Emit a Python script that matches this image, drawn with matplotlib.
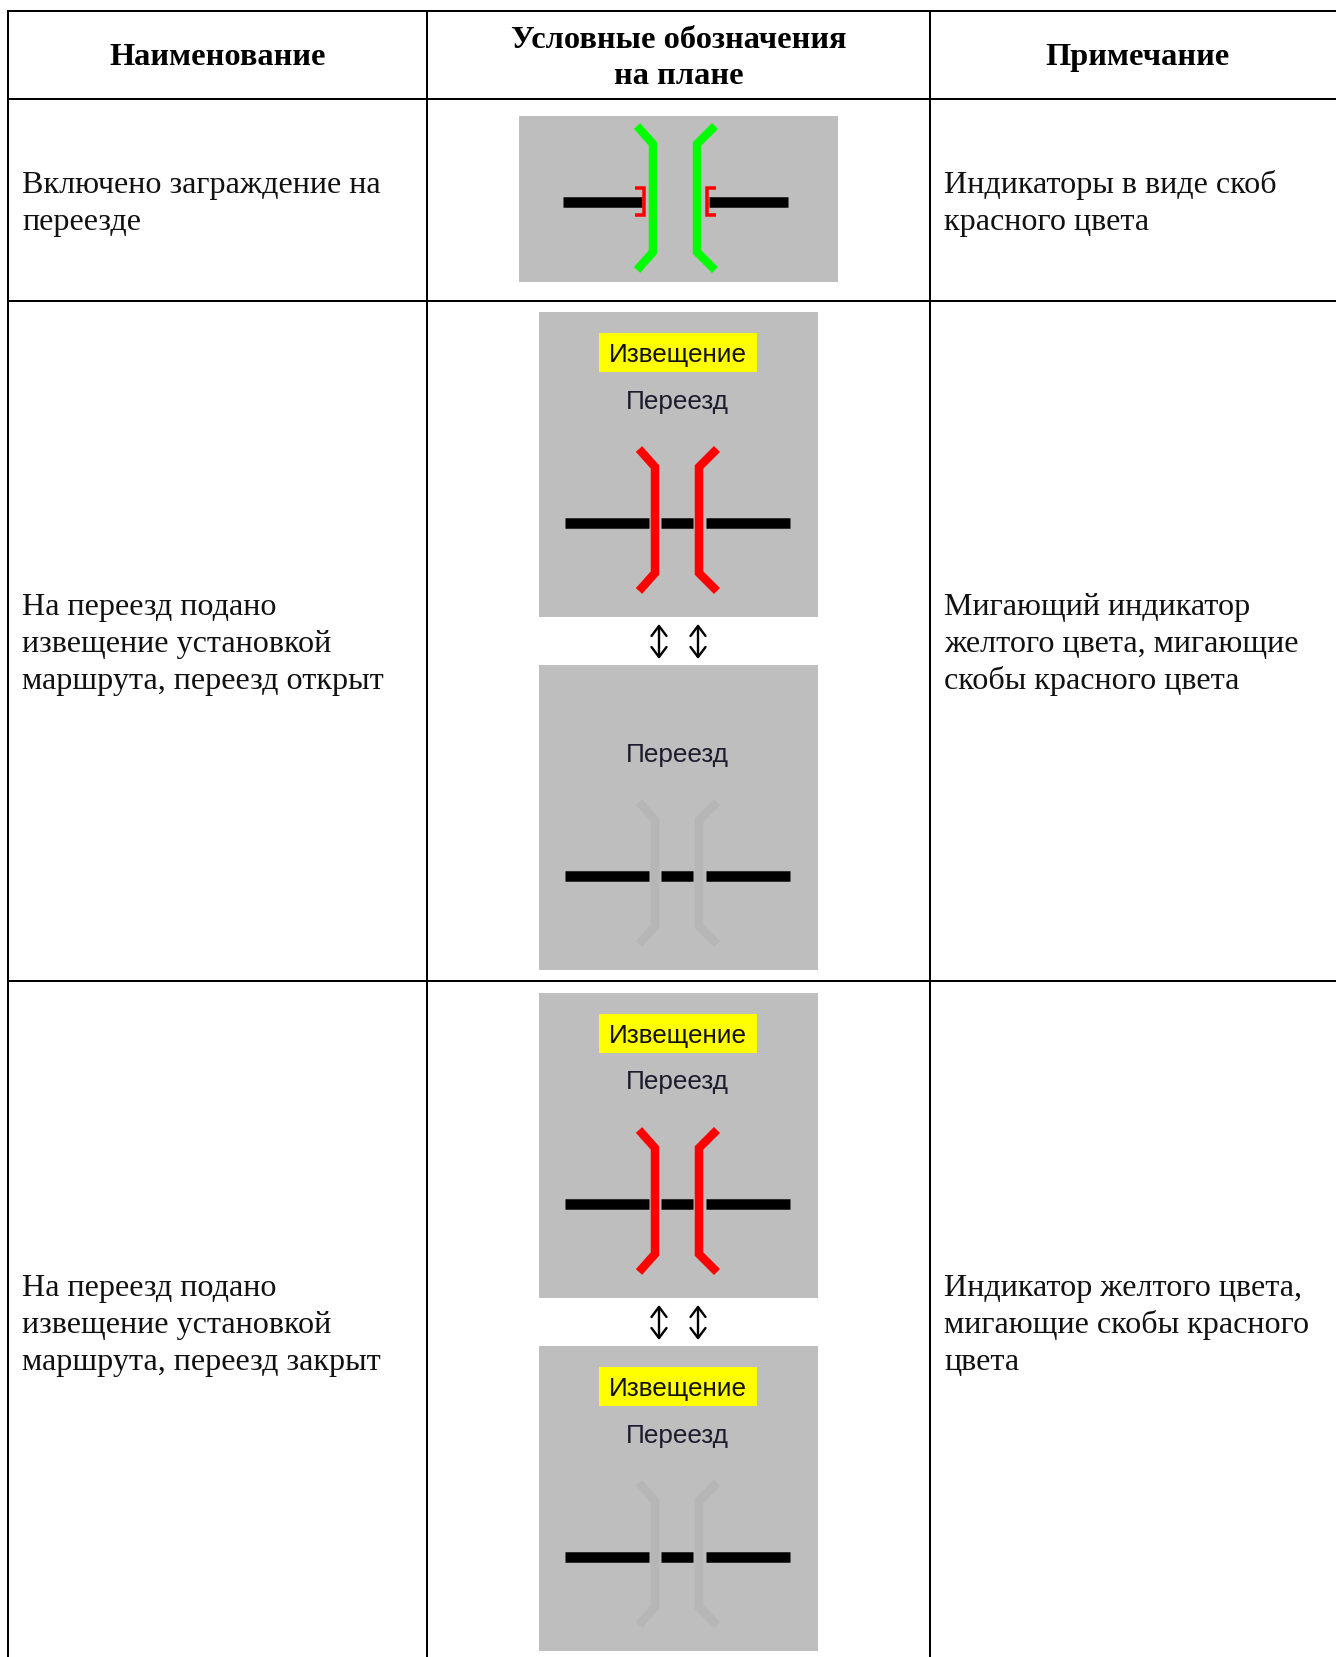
import matplotlib
matplotlib.use("Agg")
import matplotlib.pyplot as plt
from matplotlib import patches

W = 1336
H = 1658

# table
col_lines = [8, 427, 929.5]
row_lines = [11.5, 99.5, 302, 982]
headers = ["Наименование", "Условные обозначения\nна плане", "Примечание"]
names = [
    ["Включено заграждение на", "переезде"],
    ["На переезд подано", "извещение установкой", "маршрута, переезд открыт"],
    ["На переезд подано", "извещение установкой", "маршрута, переезд закрыт"],
]
notes = [
    ["Индикаторы в виде скоб", "красного цвета"],
    ["Мигающий индикатор", "желтого цвета, мигающие", "скобы красного цвета"],
    ["Индикатор желтого цвета,", "мигающие скобы красного", "цвета"],
]
row_centers = [203, 644, 1325]

SERIF = "Liberation Serif"
SANS = "Liberation Sans"
GREY = "#bebebe"
GHOST = "#b6b6b6"

fig = plt.figure(figsize=(W / 100, H / 100), dpi=100)
ax = fig.add_axes([0, 0, 1, 1])
ax.set_xlim(0, W)
ax.set_ylim(H, 0)
ax.axis("off")


def px(v):
    return v * 72 / 100


def poly(xs, ys, color, lw, cap="butt"):
    ax.plot(xs, ys, color=color, lw=px(lw), solid_capstyle=cap, solid_joinstyle="miter")


def gate(top, color):
    # two brackets, top is y of the upper end
    ys = [top, top + 18, top + 124, top + 142]
    poly([639, 655, 655, 639], ys, color, 8.5)
    poly([717, 699, 699, 717], ys, color, 8.5)


def panel(top, gate_color, banner):
    ax.add_patch(patches.Rectangle((538.5, top), 279, 305, fc=GREY, ec="none"))
    if banner:
        ax.add_patch(patches.Rectangle((598.5, top + 20.5), 158, 39.5, fc="#ffff00", ec="none"))
        ax.text(678, top + 42, "Извещение", family=SANS, fontsize=18.8, ha="center", va="center", color="#111111")
    ax.text(677.5, top + 88.5, "Переезд", family=SANS, fontsize=18.8, ha="center", va="center", color="#1c1c2e")
    gate(top + 137, gate_color)
    y = top + 211
    for x0, x1 in [(565, 649), (661, 693), (705.5, 789.5)]:
        poly([x0, x1], [y, y], "black", 10.5)


def arrows(y0, y1):
    for x in [659, 698]:
        ax.annotate("", xy=(x, y0), xytext=(x, y1),
                    arrowprops=dict(arrowstyle="<->,head_width=0.3,head_length=0.4", color="black",
                                    lw=1.7, shrinkA=0, shrinkB=0, mutation_scale=18))


# first row panel
ax.add_patch(patches.Rectangle((518.5, 117), 319, 166, fc=GREY, ec="none"))
poly([637, 653, 653, 637], [127, 145, 253, 271], "#00ff00", 8.5)
poly([715, 697, 697, 715], [127, 145, 253, 271], "#00ff00", 8.5)
poly([563, 642], [203, 203], "black", 10.5)
poly([709, 788], [203, 203], "black", 10.5)
poly([635, 644, 644, 635], [189, 189, 216, 216], "#ff0000", 3.5)
poly([716, 707, 707, 716], [189, 189, 216, 216], "#ff0000", 3.5)

# second row
panel(313, "#ff0000", True)
arrows(625, 660)
panel(666, GHOST, False)

# third row
panel(994, "#ff0000", True)
arrows(1306, 1341)
panel(1347, GHOST, True)

# grid
for x in col_lines:
    ax.plot([x, x], [row_lines[0] - 1, H], color="black", lw=px(2), solid_capstyle="butt")
for y in row_lines:
    ax.plot([col_lines[0] - 1, W], [y, y], color="black", lw=px(2), solid_capstyle="butt")

# header
ax.text(218, 57, headers[0], family=SERIF, weight="bold", fontsize=23.3, ha="center", va="center")
ax.text(678.5, 58.5, headers[1], family=SERIF, weight="bold", fontsize=23.3, ha="center", va="center", linespacing=1.28)
ax.text(1137, 57, headers[2], family=SERIF, weight="bold", fontsize=23.3, ha="center", va="center")

# cell text
STEP = 37
for name, note, yc in zip(names, notes, row_centers):
    for lines, x in [(name, 22), (note, 944.5)]:
        y = yc - STEP * (len(lines) - 1) / 2 + 8
        for line in lines:
            ax.text(x, y, line, family=SERIF, fontsize=23.1, ha="left", va="baseline", color="#111111")
            y += STEP

fig.savefig("out.png", dpi=100, facecolor="white")
